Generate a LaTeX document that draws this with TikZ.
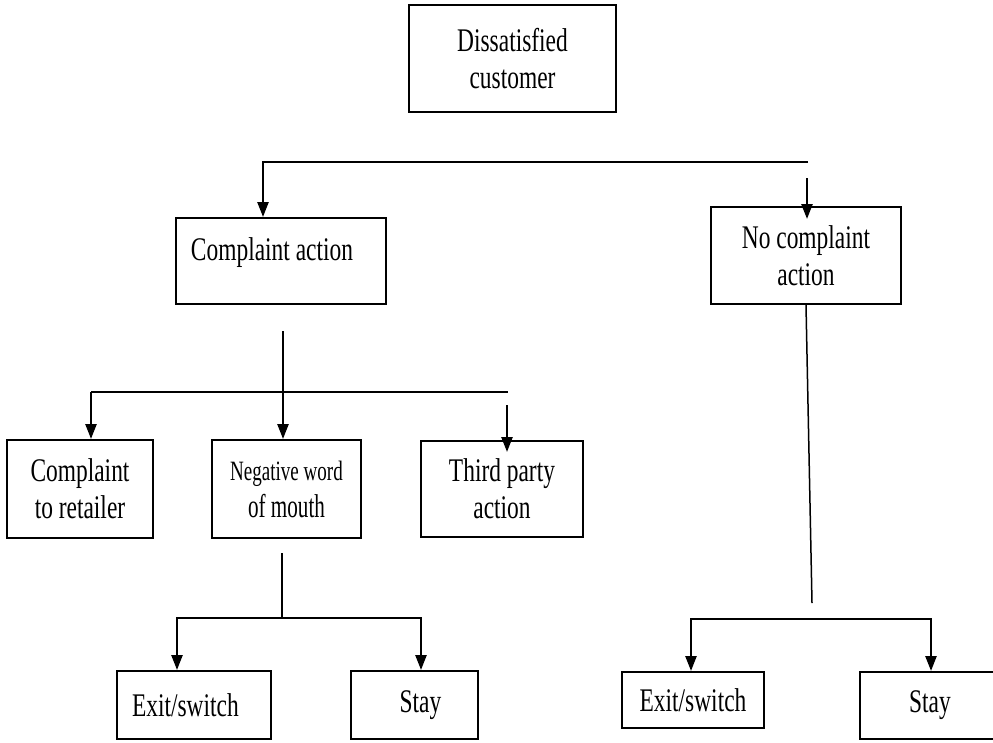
\documentclass[tikz,border=0pt]{standalone}
\usepackage{fontspec}
\setmainfont{Liberation Serif}[FakeStretch=0.71]
\newfontfamily\condensedfont{Liberation Serif}[FakeStretch=0.68]
\newfontfamily\mouthfont{Liberation Serif}[FakeStretch=0.64]
\usetikzlibrary{arrows.meta,calc}

\begin{document}
\begin{tikzpicture}[x=1pt,y=-1pt,
  box/.style={draw, line width=2pt, rectangle, inner sep=0pt, align=center,
              font=\fontsize{33}{37}\selectfont},
  boxtext/.style={font=\fontsize{33}{37}\selectfont, inner sep=0pt},
  thin line/.style={line width=1.5pt},
  bar/.style={line width=2.5pt},
  drop/.style={line width=2.4pt, -{Triangle[width=11pt,length=15pt]}},
]
\useasboundingbox (0,0) rectangle (993,742);
\clip (0,0) rectangle (993,742);

% boxes
\node[box, minimum width=207pt, minimum height=107pt] (dc) at (512.5,58.5) {Dissatisfied\\customer};
\node[box, minimum width=210pt, minimum height=86pt] (ca) at (281,261) {};
\node[boxtext, anchor=base] (ca-text) at (272,260) {Complaint action};
\node[box, minimum width=190pt, minimum height=97pt] (nca) at (806,255.5) {No complaint\\action};
\node[box, minimum width=146pt, minimum height=98pt] (ctr) at (80,489) {Complaint\\to retailer};
\node[box, minimum width=149pt, minimum height=98pt] (nwm) at (286.5,489)
  {{\condensedfont\fontsize{28}{32}\selectfont Negative word}\\{\mouthfont of mouth}};
\node[box, minimum width=162pt, minimum height=96pt] (tpa) at (502,489) {Third party\\action};
\node[box, minimum width=154pt, minimum height=68pt, text width=124pt, align=left] (ex1) at (194,705) {Exit/switch};
\node[box, minimum width=127pt, minimum height=68pt] (st1) at (414.5,705) {\hspace*{12pt}Stay};
\node[box, minimum width=142pt, minimum height=56pt] (ex2) at (693,700) {Exit/switch};
\node[box, minimum width=140pt, minimum height=67pt] (st2) at (930,705.5) {Stay};

% first split
\coordinate (top-r) at (808,162);
\coordinate (top-l) at (263,162);
\coordinate (nca-in) at (807,178);
\draw[drop] (top-r) -- (top-l) -- (top-l |- ca.north);
\draw[drop] (nca-in) -- ($(nca-in |- nca.north)+(0,13)$);

% complaint action branches
\coordinate (ca-out) at (283,331);
\coordinate (split1) at (283,392);
\coordinate (bar1-l) at (91,392);
\coordinate (bar1-r) at (508,392);
\coordinate (tpa-in) at (507,405);
\draw[thin line] (ca-out) -- (split1);
\draw[bar] (bar1-l) -- (bar1-r);
\draw[drop] (bar1-l) -- (bar1-l |- ctr.north);
\draw[drop] (split1) -- (split1 |- nwm.north);
\draw[drop] (tpa-in) -- ($(tpa-in |- tpa.north)+(0,12)$);

% outcomes after negative word of mouth
\coordinate (nwm-out) at (282,553);
\coordinate (split2) at (282,618);
\coordinate (bar2-l) at (177,618);
\coordinate (bar2-r) at (421,618);
\draw[thin line] (nwm-out) -- (split2);
\draw[drop] (split2) -- (bar2-l) -- (bar2-l |- ex1.north);
\draw[drop] (split2) -- (bar2-r) -- (bar2-r |- st1.north);

% outcomes after no complaint action
\coordinate (nca-end) at (812,603);
\coordinate (bar3-l) at (691,619);
\coordinate (bar3-r) at (931,619);
\coordinate (bar3-m) at (811,619);
\draw[thin line] (nca.south) -- (nca-end);
\draw[drop] (bar3-m) -- (bar3-l) -- (bar3-l |- ex2.north);
\draw[drop] (bar3-m) -- (bar3-r) -- (bar3-r |- st2.north);
\end{tikzpicture}
\end{document}
